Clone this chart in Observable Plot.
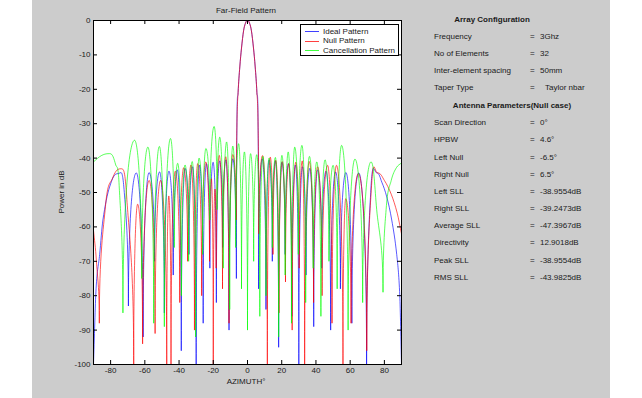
<!DOCTYPE html>
<html><head><meta charset="utf-8">
<script src="https://cdn.jsdelivr.net/npm/d3@7"></script>
<script src="https://cdn.jsdelivr.net/npm/@observablehq/plot@0.6"></script>
<style>
body{margin:0;background:#fff;}
#fig{position:relative;width:642px;height:398px;background:#fff;overflow:hidden;font-family:"Liberation Sans",Arial,sans-serif;}
#panel{position:absolute;left:32px;top:0;width:578px;height:398px;background:#cccccc;}
#chart{position:absolute;left:32px;top:0;}
.t{position:absolute;font-size:8px;color:#1a1a1a;white-space:nowrap;line-height:10px;transform:translateY(-50%);}
.c{transform:translate(-50%,-50%);}
.b{font-weight:bold;}
#legend{position:absolute;left:300px;top:24px;width:97px;height:30px;border:1px solid #000;background:#fff;}
.sw{position:absolute;left:4px;width:14px;height:0;border-top:1px solid;opacity:0.75;}
</style>
</head><body>
<div id="fig">
  <div id="panel"></div>
  <div id="chart"></div>
</div>
<script>
// ---- data ----
const xTicks = [-80, -60, -40, -20, 0, 20, 40, 60, 80];
const yTicks = [0, -10, -20, -30, -40, -50, -60, -70, -80, -90, -100];

// Ideal pattern (blue): azimuth (deg) and power (dB), peaks and nulls
const idealAz = [-90,-88.5,-86.4,-84.5,-80.6,-75.6,-72,-69.6,-65,-61,-57.5,-54.3,-51.4,-48.6,-45.9,-43.4,-41,-38.7,-36.4,-34.2,-32.1,-30,-28,-25.9,-24,-22,-20.1,-18.2,-16.3,-14.5,-12.6,-10.8,-8.6,-6.5,
  -6.2,-5.5,-4.5,-3.5,-2.3,-1.2,0,1.2,2.3,3.5,4.5,5.5,6.2,
  6.5,8.6,10.8,12.6,14.5,16.3,18.2,20.1,22,24,25.9,28,30,32.1,34.2,36.4,38.7,41,43.4,45.9,48.6,51.4,54.3,57.5,61,65,69.6,72,75.6,78.5,81.4,84.3,87.2,89,90];
const idealDb = [-100,-78,-68,-58,-48.4,-44.5,-50,-83,-44.3,-92,-44.2,-70,-44,-85,-43.8,-74,-43.4,-96,-43,-68,-42.5,-100,-42,-88,-41.6,-72,-41.2,-82,-40.8,-66,-40.5,-90,-40.2,-75,
  -31,-21,-13.5,-8,-3,-0.8,0,-0.8,-3,-8,-13.5,-21,-31,
  -78,-40.2,-84,-40.5,-70,-40.8,-95,-41.2,-68,-41.6,-86,-42,-100,-42.5,-74,-43,-89,-43.4,-72,-43.8,-90,-44,-78,-44.2,-88,-44.3,-100,-50,-44.3,-47,-51.3,-58,-68,-80,-100];

// Null pattern (red)
const nullAz = [-90,-88.3,-86.6,-83,-79,-74,-70.5,-66.5,-64.2,-61.3,-57.5,-54,-50.8,-47.2,-46,-44.7,-42.2,-39.6,-37.3,-35,-33,-31,-29.1,-26.8,-24.4,-22.2,-21.1,-20,-19,-18.3,-16.5,-14.6,-12.7,-10.8,-8.6,-6.6,
  -6.2,-5.5,-4.5,-3.5,-2.3,-1.2,0,1.2,2.3,3.5,4.5,5.5,6.2,
  6.6,8.8,11.6,13.3,14.9,16.5,18.4,20.3,22.2,24.1,26.1,28.2,30.2,32,33.4,36.1,38.6,41,43.6,46.8,49.4,52,55.8,57.4,60.5,64.8,69.7,72.5,76,80,84,87.5,90];
const nullDb = [-61,-70,-88,-54,-46,-43.1,-52,-100,-53.4,-94,-46.5,-91,-46.5,-100,-51,-100,-43.8,-82,-42.8,-70,-42,-90,-41.6,-80,-41.1,-70,-46,-100,-49,-72,-39.2,-78,-39.6,-88,-38.96,-58,
  -31,-21,-13.5,-8,-3,-0.8,0,-0.8,-3,-8,-13.5,-21,-31,
  -62,-39.25,-100,-39.7,-68,-40.6,-85,-41,-76,-41.6,-90,-41.2,-72,-40.8,-100,-41,-82,-42.5,-80,-42.1,-88,-42.1,-100,-51.8,-88,-44.5,-96,-48,-44.3,-46.5,-50.5,-56,-62];

// Cancellation pattern (green)
const cancAz = [-90,-85.5,-80.5,-77,-75,-72.8,-66,-61.8,-58.2,-54.8,-51.5,-48.6,-45,-42.8,-40.8,-38.6,-36.5,-34.4,-32.3,-30.3,-28.3,-26.2,-24.3,-22,-19.5,-17.8,-16.2,-14.2,-12.2,-10.4,-8.6,-6.9,-5.2,-3.5,-1.8,0,1.8,3.6,5.4,7.2,9,10.8,12.6,14.5,16.3,18.2,20.1,22,23.8,25.7,27.6,29.7,31.8,34,36.2,38.4,40.5,42.9,45.3,47.6,50,52.4,55,58.8,62.8,67.3,72.2,75.5,79.2,81,84,87,90];
const cancDb = [-41.1,-39.3,-38.7,-42,-48,-85,-34.8,-75,-36.8,-88,-36.6,-89,-34.3,-66,-41.5,-80,-42,-70,-41,-92,-40,-68,-37.2,-58,-30.8,-55,-33.9,-72,-35.3,-84,-36.5,-66,-35.8,-78,-38.2,-90,-38.7,-70,-39,-86,-39.5,-80,-40,-66,-39.8,-92,-39.2,-74,-38.2,-88,-36.8,-68,-36.3,-82,-39.5,-72,-41.1,-86,-40.5,-70,-42.1,-78,-36.3,-90,-40.3,-82,-41.1,-55,-79,-55,-46.5,-42.8,-41.4];

const ideal = idealAz.map((a, i) => ({az: a, db: idealDb[i]}));
const nul = nullAz.map((a, i) => ({az: a, db: nullDb[i]}));
const canc = cancAz.map((a, i) => ({az: a, db: cancDb[i]}));

// Rendering curve: round lobe tops (horizontal tangent at local maxima),
// sharp cusps at nulls (vertical tangent at local minima).
function curveLobes(context) {
  let pts;
  return {
    areaStart() {}, areaEnd() {},
    lineStart() { pts = []; },
    point(x, y) { pts.push([+x, +y]); },
    lineEnd() {
      const n = pts.length;
      if (!n) return;
      context.moveTo(pts[0][0], pts[0][1]);
      const kind = pts.map((p, i) => {
        const a = pts[i - 1], b = pts[i + 1];
        if (!a || !b) return "end";
        if (p[1] < a[1] && p[1] < b[1]) return "max";
        if (p[1] > a[1] && p[1] > b[1]) return "min";
        return "mid";
      });
      const slope = (i) => {
        const a = pts[Math.max(0, i - 1)], b = pts[Math.min(n - 1, i + 1)];
        return (b[1] - a[1]) / ((b[0] - a[0]) || 1);
      };
      for (let i = 0; i < n - 1; i++) {
        const p = pts[i], q = pts[i + 1], dx = q[0] - p[0], dy = q[1] - p[1];
        let c1, c2;
        if (kind[i] === "max") c1 = [p[0] + dx * 0.5, p[1]];
        else if (kind[i] === "min") c1 = [p[0], p[1] + dy * 0.6];
        else { const s = slope(i); c1 = [p[0] + dx / 3, p[1] + s * dx / 3]; }
        if (kind[i + 1] === "max") c2 = [q[0] - dx * 0.5, q[1]];
        else if (kind[i + 1] === "min") c2 = [q[0], q[1] - dy * 0.6];
        else { const s = slope(i + 1); c2 = [q[0] - dx / 3, q[1] - s * dx / 3]; }
        context.bezierCurveTo(c1[0], c1[1], c2[0], c2[1], q[0], q[1]);
      }
    }
  };
}

const W = 578, H = 398, ml = 61, mr = 209, mt = 20, mb = 34;
const innerW = W - ml - mr, innerH = H - mt - mb;
const lw = 0.65;

const chart = Plot.plot({
  width: W, height: H,
  marginLeft: ml, marginRight: mr, marginTop: mt, marginBottom: mb,
  style: {background: "transparent", fontFamily: "Liberation Sans, Arial, sans-serif", fontSize: "8px", color: "#1a1a1a"},
  x: {domain: [-90, 90]},
  y: {domain: [-100, 0]},
  marks: [
    Plot.frame({fill: "white", stroke: null}),
    Plot.line(ideal, {x: "az", y: "db", stroke: "#0000ff", strokeWidth: lw, curve: curveLobes, clip: true}),
    Plot.line(nul, {x: "az", y: "db", stroke: "#ff0000", strokeWidth: lw, curve: curveLobes, clip: true}),
    Plot.line(canc, {x: "az", y: "db", stroke: "#00ff00", strokeWidth: lw, curve: curveLobes, clip: true}),
    Plot.tickX(xTicks, {x: d => d, insetTop: innerH - 4, stroke: "#000"}),
    Plot.tickX(xTicks, {x: d => d, insetBottom: innerH - 4, stroke: "#000"}),
    Plot.tickY(yTicks, {y: d => d, insetRight: innerW - 4, stroke: "#000"}),
    Plot.tickY(yTicks, {y: d => d, insetLeft: innerW - 4, stroke: "#000"}),
    Plot.axisX(xTicks, {tickSize: 0, tickPadding: 3, tickFormat: d => String(d), label: null}),
    Plot.axisY(yTicks, {tickSize: 0, tickPadding: 3, tickFormat: d => String(d), label: null}),
    Plot.frame({stroke: "#000"})
  ]
});
document.getElementById("chart").appendChild(chart);

// ---- texts ----
const fig = document.getElementById("fig");
function txt(s, x, y, cls) {
  const d = document.createElement("div");
  d.className = "t " + (cls || "");
  d.textContent = s;
  d.style.left = x + "px"; d.style.top = y + "px";
  fig.appendChild(d);
  return d;
}
txt("Far-Field Pattern", 246, 11, "c");
txt("AZIMUTH\u00b0", 246, 382, "c");
const yl = txt("Power in dB", 62, 192, "");
yl.style.transform = "translate(-50%,-50%) rotate(-90deg)";

// legend
const legendNames = ["Ideal Pattern", "Null Pattern", "Cancellation Pattern"];
const legendColors = ["#0000ff", "#ff0000", "#00ff00"];
const lg = document.createElement("div"); lg.id = "legend"; fig.appendChild(lg);
legendNames.forEach((n, i) => {
  const s = document.createElement("div"); s.className = "sw";
  s.style.top = (6 + i * 9.7) + "px"; s.style.borderTopColor = legendColors[i];
  lg.appendChild(s);
  const t = document.createElement("div"); t.className = "t"; t.textContent = n;
  t.style.left = "22px"; t.style.top = (6.5 + i * 9.7) + "px";
  lg.appendChild(t);
});

// right panel
const cfgLabels = ["Frequency", "No of Elements", "Inter-element spacing", "Taper Type"];
const cfgValues = ["3Ghz", "32", "50mm", "Taylor nbar"];
const parLabels = ["Scan Direction", "HPBW", "Left Null", "Right Null", "Left SLL", "Right SLL", "Average SLL", "Directivity", "Peak SLL", "RMS SLL"];
const parValues = ["0\u00b0", "4.6\u00b0", "-6.5\u00b0", "6.5\u00b0", "-38.9554dB", "-39.2473dB", "-47.3967dB", "12.9018dB", "-38.9554dB", "-43.9825dB"];
const rowH = 17.15;
txt("Array Configuration", 492, 20, "c b");
cfgLabels.forEach((l, i) => {
  const y = 37 + i * rowH;
  txt(l, 434, y);
  txt("=", 530, y);
  txt(cfgValues[i], i === 3 ? 545 : 540, y);
});
txt("Antenna Parameters(Null case)", 512, 106, "c b");
parLabels.forEach((l, i) => {
  const y = 123.3 + i * rowH;
  txt(l, 434, y);
  txt("=", 530, y);
  txt(parValues[i], 540, y);
});
</script>
</body></html>
